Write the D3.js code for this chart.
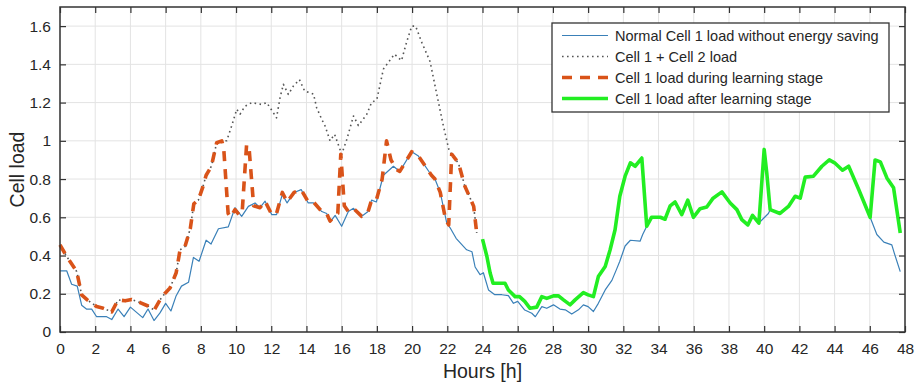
<!DOCTYPE html>
<html>
<head>
<meta charset="utf-8">
<script src="https://cdn.jsdelivr.net/npm/d3@7/dist/d3.min.js"></script>
<style>
  body { margin: 0; background: #fff; }
  text { font-family: "Liberation Sans", Arial, sans-serif; fill: #262626; }
</style>
</head>
<body>
<svg id="chart" width="922" height="386"></svg>
<script>
// [hour, load] pairs
const normalLoad = [
  [0, 0.32], [0.38, 0.32], [0.66, 0.25], [0.98, 0.24], [1.23, 0.14], [1.5, 0.12], [1.8, 0.12],
  [2.08, 0.08], [2.65, 0.08], [2.94, 0.065], [3.3, 0.12], [3.64, 0.08], [4.0, 0.13], [4.7, 0.075],
  [5.0, 0.12], [5.34, 0.06], [5.68, 0.10], [6.0, 0.15], [6.3, 0.11], [6.6, 0.19], [6.9, 0.24],
  [7.3, 0.26], [7.58, 0.39], [7.9, 0.37], [8.3, 0.48], [8.58, 0.46], [9.0, 0.54], [9.56, 0.55],
  [9.94, 0.65], [10.32, 0.605], [10.7, 0.657], [11.08, 0.675], [11.36, 0.65], [11.65, 0.684],
  [12.03, 0.614], [12.3, 0.614], [12.63, 0.72], [12.9, 0.675], [13.3, 0.73], [13.7, 0.745],
  [14.1, 0.675], [14.4, 0.675], [14.87, 0.63], [15.15, 0.62], [15.34, 0.575], [15.63, 0.61],
  [16.0, 0.553], [16.38, 0.63], [16.67, 0.647], [17.14, 0.605], [17.5, 0.63], [17.7, 0.69],
  [17.97, 0.68], [18.37, 0.82], [18.94, 0.867], [19.3, 0.84], [19.98, 0.943], [20.36, 0.92],
  [21.1, 0.82], [21.3, 0.80], [21.6, 0.73], [21.97, 0.57], [22.16, 0.545], [22.5, 0.49],
  [23.1, 0.43], [23.4, 0.42], [23.58, 0.34], [23.86, 0.30], [24.05, 0.31], [24.34, 0.22],
  [24.7, 0.195], [25.1, 0.195], [25.47, 0.19], [25.76, 0.15], [26.0, 0.16], [26.4, 0.115],
  [26.8, 0.098], [27.0, 0.08], [27.37, 0.133], [27.65, 0.124], [28.03, 0.142], [28.4, 0.12],
  [28.7, 0.116], [29.07, 0.094], [29.45, 0.116], [29.73, 0.142], [30.0, 0.133], [30.3, 0.107],
  [30.58, 0.15], [30.97, 0.22], [31.35, 0.27], [31.6, 0.325], [31.8, 0.37], [32.1, 0.45],
  [32.4, 0.48], [32.95, 0.475], [33.1, 0.51], [33.33, 0.553], [33.6, 0.6], [34.1, 0.6],
  [34.37, 0.59], [34.66, 0.66], [34.94, 0.68], [35.32, 0.614], [35.66, 0.69], [35.98, 0.6],
  [36.36, 0.645], [36.74, 0.654], [37.1, 0.7], [37.6, 0.733], [38.07, 0.675], [38.45, 0.64],
  [38.73, 0.588], [39.07, 0.56], [39.34, 0.61], [39.7, 0.57], [40.24, 0.62], [40.34, 0.64],
  [40.9, 0.62], [41.38, 0.657], [41.76, 0.71], [42.05, 0.70], [42.33, 0.81], [42.8, 0.815],
  [43.28, 0.867], [43.7, 0.90], [44.0, 0.885], [44.45, 0.846], [44.8, 0.867], [45.37, 0.745],
  [46.02, 0.60], [46.4, 0.51], [46.8, 0.47], [47.25, 0.456], [47.4, 0.41], [47.73, 0.316]
];

const sumLoad = [
  [0, 0.456], [0.38, 0.395], [0.95, 0.316], [1.23, 0.194], [1.55, 0.168], [2.08, 0.133],
  [2.46, 0.124], [2.94, 0.105], [3.3, 0.168], [3.7, 0.163], [4.07, 0.17], [4.55, 0.154],
  [5.0, 0.136], [5.35, 0.115], [5.68, 0.168], [5.97, 0.203], [6.25, 0.23], [6.6, 0.31],
  [6.82, 0.43], [7.1, 0.447], [7.4, 0.54], [7.6, 0.67], [7.86, 0.69], [8.12, 0.76],
  [8.3, 0.82], [8.6, 0.867], [8.9, 0.99], [9.19, 1.0], [9.47, 1.0], [9.75, 1.077],
  [10.04, 1.165], [10.23, 1.14], [10.5, 1.18], [10.9, 1.2], [11.46, 1.19], [11.74, 1.2],
  [12.12, 1.147], [12.3, 1.12], [12.5, 1.226], [12.69, 1.296], [12.97, 1.243], [13.26, 1.287],
  [13.6, 1.32], [13.9, 1.26], [14.4, 1.245], [14.58, 1.173], [14.87, 1.112], [15.06, 1.077],
  [15.34, 1.0], [15.6, 1.034], [16.0, 0.93], [16.29, 1.007], [16.67, 1.13], [16.95, 1.08],
  [17.42, 1.138], [17.7, 1.2], [18.0, 1.217], [18.37, 1.375], [19.0, 1.453], [19.4, 1.42],
  [19.7, 1.52], [19.98, 1.6], [20.2, 1.6], [20.55, 1.515], [21.02, 1.415], [21.4, 1.245],
  [21.78, 1.077], [22.1, 0.95], [22.3, 0.92], [22.63, 0.885], [23.0, 0.762], [23.3, 0.70],
  [23.5, 0.657], [23.67, 0.518]
];

const learningLoad = [
  [0, 0.456], [0.38, 0.395], [0.95, 0.316], [1.23, 0.194], [1.55, 0.168], [2.08, 0.133],
  [2.46, 0.124], [2.94, 0.105], [3.3, 0.168], [3.7, 0.163], [4.07, 0.17], [4.55, 0.154],
  [5.0, 0.136], [5.35, 0.115], [5.68, 0.168], [5.97, 0.203], [6.25, 0.23], [6.6, 0.31],
  [6.82, 0.43], [7.1, 0.447], [7.4, 0.54], [7.6, 0.67], [7.86, 0.69], [8.12, 0.76],
  [8.3, 0.82], [8.6, 0.867], [8.9, 0.99], [9.19, 1.0], [9.3, 0.96], [9.55, 0.62],
  [9.7, 0.6], [9.94, 0.64], [10.2, 0.61], [10.35, 0.63], [10.6, 0.98], [10.75, 0.95],
  [11.0, 0.66], [11.36, 0.65], [11.65, 0.684], [12.03, 0.614], [12.3, 0.62], [12.63, 0.73],
  [12.9, 0.68], [13.3, 0.73], [13.7, 0.745], [14.1, 0.68], [14.4, 0.68], [14.87, 0.63],
  [15.15, 0.62], [15.34, 0.58], [15.63, 0.61], [15.78, 0.62], [15.95, 0.93], [16.15, 0.66],
  [16.38, 0.63], [16.67, 0.647], [17.14, 0.605], [17.5, 0.63], [17.7, 0.69], [17.97, 0.69],
  [18.3, 0.8], [18.55, 1.0], [18.8, 0.9], [19.1, 0.85], [19.3, 0.84], [19.98, 0.943],
  [20.36, 0.92], [21.1, 0.82], [21.3, 0.80], [21.6, 0.73], [21.9, 0.59], [22.08, 0.56],
  [22.25, 0.93], [22.63, 0.885], [23.0, 0.762], [23.3, 0.70], [23.5, 0.657], [23.67, 0.518]
];

const afterLoad = [
  [24.0, 0.486], [24.25, 0.395], [24.43, 0.31], [24.6, 0.255], [25.28, 0.255], [25.47, 0.22],
  [25.85, 0.185], [26.1, 0.185], [26.4, 0.16], [26.7, 0.124], [27.08, 0.13], [27.37, 0.185],
  [27.65, 0.176], [28.03, 0.189], [28.3, 0.19], [28.6, 0.168], [28.98, 0.142], [29.26, 0.168],
  [29.73, 0.206], [30.0, 0.194], [30.3, 0.185], [30.58, 0.29], [30.97, 0.343], [31.25, 0.43],
  [31.53, 0.535], [31.8, 0.71], [32.1, 0.815], [32.4, 0.885], [32.67, 0.867], [33.05, 0.91],
  [33.33, 0.553], [33.6, 0.6], [34.1, 0.6], [34.37, 0.59], [34.66, 0.66], [34.94, 0.68],
  [35.32, 0.614], [35.66, 0.69], [35.98, 0.6], [36.36, 0.645], [36.74, 0.654], [37.1, 0.7],
  [37.6, 0.733], [38.07, 0.675], [38.45, 0.64], [38.73, 0.588], [39.07, 0.56], [39.34, 0.61],
  [39.7, 0.57], [40.0, 0.955], [40.15, 0.83], [40.34, 0.64], [40.9, 0.62], [41.38, 0.657],
  [41.76, 0.71], [42.05, 0.70], [42.33, 0.81], [42.8, 0.815], [43.28, 0.867], [43.7, 0.90],
  [44.0, 0.885], [44.45, 0.846], [44.8, 0.867], [45.37, 0.745], [46.02, 0.60], [46.3, 0.90],
  [46.6, 0.89], [46.97, 0.806], [47.35, 0.754], [47.73, 0.518]
];

const xTicks = d3.range(0, 49, 2);
const yTicks = [0, 0.2, 0.4, 0.6, 0.8, 1, 1.2, 1.4, 1.6];
const yTickLabels = ['0', '0.2', '0.4', '0.6', '0.8', '1', '1.2', '1.4', '1.6'];

const legendLabels = [
  'Normal Cell 1 load without energy saving',
  'Cell 1 + Cell 2 load',
  'Cell 1 load during learning stage',
  'Cell 1 load after learning stage'
];

const svg = d3.select('#chart');
const margin = { left: 60, right: 17, top: 7, bottom: 54 };
const width = 922 - margin.left - margin.right;
const height = 386 - margin.top - margin.bottom;

const x = d3.scaleLinear().domain([0, 48]).range([0, width]);
const y = d3.scaleLinear().domain([0, 1.7]).range([height, 0]);

const g = svg.append('g').attr('transform', `translate(${margin.left},${margin.top})`);

// grid
g.append('g').selectAll('line.vx').data(xTicks).join('line')
  .attr('x1', d => x(d)).attr('x2', d => x(d))
  .attr('y1', 0).attr('y2', height)
  .attr('stroke', '#e3e3e3').attr('stroke-width', 1);
g.append('g').selectAll('line.hy').data(yTicks).join('line')
  .attr('y1', d => y(d)).attr('y2', d => y(d))
  .attr('x1', 0).attr('x2', width)
  .attr('stroke', '#e3e3e3').attr('stroke-width', 1);

const line = d3.line().x(d => x(d[0])).y(d => y(d[1]));

const styles = [
  { data: normalLoad, color: '#3a80b8', width: 1.2, dash: null },
  { data: sumLoad, color: '#555555', width: 1.6, dash: '1.6,3.4' },
  { data: learningLoad, color: '#d95319', width: 3.6, dash: '10,8' },
  { data: afterLoad, color: '#22ee22', width: 3.6, dash: null }
];

styles.forEach(s => {
  g.append('path')
    .datum(s.data)
    .attr('d', line)
    .attr('fill', 'none')
    .attr('stroke', s.color)
    .attr('stroke-width', s.width)
    .attr('stroke-dasharray', s.dash)
    .attr('stroke-linejoin', 'round');
});

// axes, MATLAB style box with ticks pointing inward
const xAxis = d3.axisBottom(x).tickValues(xTicks).tickSizeInner(-6).tickSizeOuter(0).tickPadding(11);
const yAxis = d3.axisLeft(y).tickValues(yTicks).tickFormat((d, i) => yTickLabels[i])
  .tickSizeInner(-6).tickSizeOuter(0).tickPadding(9);

const gx = g.append('g').attr('transform', `translate(0,${height})`).call(xAxis);
const gy = g.append('g').call(yAxis);
const gx2 = g.append('g').call(d3.axisTop(x).tickValues(xTicks).tickSizeInner(-6).tickSizeOuter(0).tickFormat(''));
const gy2 = g.append('g').attr('transform', `translate(${width},0)`)
  .call(d3.axisRight(y).tickValues(yTicks).tickSizeInner(-6).tickSizeOuter(0).tickFormat(''));

[gx, gy, gx2, gy2].forEach(a => {
  a.select('.domain').remove();
  a.selectAll('line').attr('stroke', '#333').attr('stroke-width', 1.2);
  a.selectAll('text').style('font-size', '15.5px').attr('fill', '#1a1a1a');
});

g.append('rect')
  .attr('width', width).attr('height', height)
  .attr('fill', 'none').attr('stroke', '#333').attr('stroke-width', 1.5);

// axis titles
svg.append('text')
  .attr('x', margin.left + width / 2).attr('y', 378)
  .attr('text-anchor', 'middle').style('font-size', '19.5px')
  .text('Hours [h]');
svg.append('text')
  .attr('transform', `translate(24,${margin.top + height / 2}) rotate(-90)`)
  .attr('text-anchor', 'middle').style('font-size', '19.5px')
  .text('Cell load');

// legend
const lg = svg.append('g').attr('transform', 'translate(552,23)');
lg.append('rect').attr('width', 337).attr('height', 89)
  .attr('fill', '#fff').attr('stroke', '#333').attr('stroke-width', 1.3);
legendLabels.forEach((t, i) => {
  const ly = 12.5 + i * 21;
  lg.append('line')
    .attr('x1', 10).attr('x2', 56).attr('y1', ly).attr('y2', ly)
    .attr('stroke', styles[i].color).attr('stroke-width', styles[i].width)
    .attr('stroke-dasharray', styles[i].dash);
  lg.append('text').attr('x', 63).attr('y', ly + 5)
    .style('font-size', '14.5px').attr('fill', '#111').text(t);
});
</script>
</body>
</html>
